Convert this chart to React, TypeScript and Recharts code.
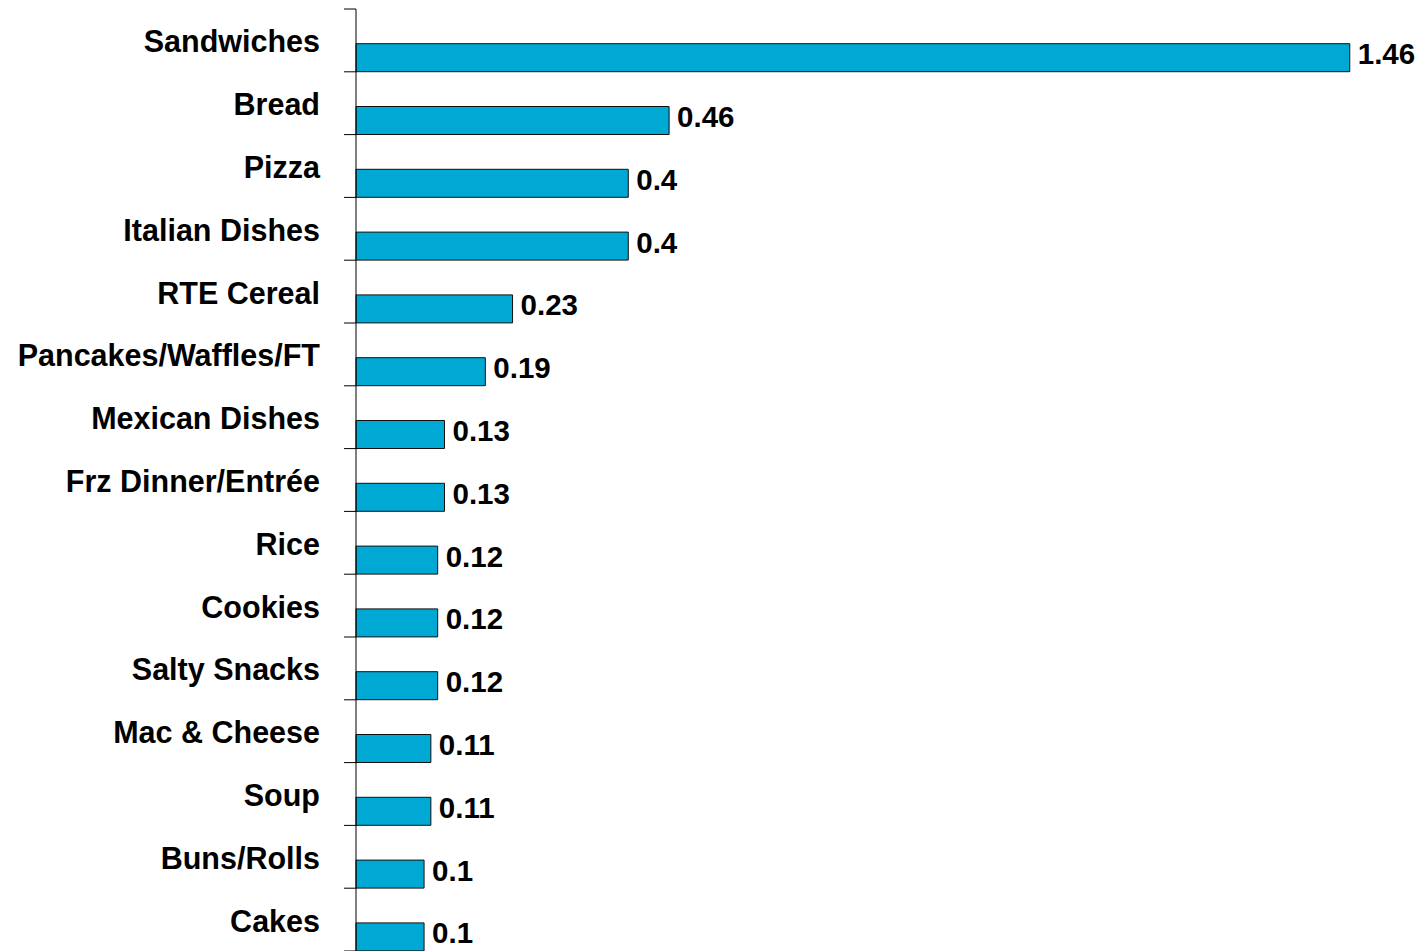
import React from "react";
import { BarChart, Bar, XAxis, YAxis, LabelList } from "recharts";

const categories = [
  "Sandwiches", "Bread", "Pizza", "Italian Dishes", "RTE Cereal",
  "Pancakes/Waffles/FT", "Mexican Dishes", "Frz Dinner/Entrée", "Rice",
  "Cookies", "Salty Snacks", "Mac & Cheese", "Soup", "Buns/Rolls", "Cakes",
];
const values = [1.46, 0.46, 0.4, 0.4, 0.23, 0.19, 0.13, 0.13, 0.12, 0.12, 0.12, 0.11, 0.11, 0.1, 0.1];

const data = categories.map((name, i) => ({ name, value: values[i] }));

const W = 1420;
const H = 951;
const MARGIN = { top: 9, right: 43, bottom: 0, left: 0 };
const AXIS_W = 356;
const BAND = (H - MARGIN.top - MARGIN.bottom) / categories.length;
const FONT = "'Liberation Sans', Arial, sans-serif";

const Tick = (props: any) => {
  const { x, y, payload, index } = props;
  return (
    <g>
      <text
        x={x - 36}
        y={y + 1}
        textAnchor="end"
        dominantBaseline="central"
        fontFamily={FONT}
        fontWeight="bold"
        fontSize={30.5}
        fill="#000"
      >
        {payload.value}
      </text>
      {index === 0 && (
        <line x1={x - 12} x2={x} y1={y - BAND / 2} y2={y - BAND / 2} stroke="#000" strokeWidth={1} />
      )}
      <line x1={x - 12} x2={x} y1={y + BAND / 2} y2={y + BAND / 2} stroke="#000" strokeWidth={1} />
    </g>
  );
};

export default function App() {
  return (
    <div style={{ width: W, height: H, background: "#fff" }}>
      <style>{"html,body{margin:0;padding:0;overflow:hidden;background:#fff}"}</style>
      <BarChart
        width={W}
        height={H}
        data={data}
        layout="vertical"
        margin={MARGIN}
        barCategoryGap={0}
        barGap={4.7}
      >
        <XAxis type="number" domain={[0, 1.5]} hide />
        <YAxis
          type="category"
          dataKey="name"
          width={AXIS_W}
          axisLine={{ stroke: "#000", strokeWidth: 1 }}
          tickLine={false}
          tickSize={0}
          tickMargin={0}
          tick={<Tick />}
          interval={0}
        />
        <Bar dataKey="spacer" barSize={30} fill="none" stroke="none" isAnimationActive={false} />
        <Bar
          dataKey="value"
          barSize={28}
          fill="#00A8D4"
          stroke="#111"
          strokeWidth={1}
          isAnimationActive={false}
        >
          <LabelList
            dataKey="value"
            position="right"
            offset={8}
            dy={-4}
            fontFamily={FONT}
            fontWeight="bold"
            fontSize={29.5}
            fill="#000"
          />
        </Bar>
      </BarChart>
    </div>
  );
}
